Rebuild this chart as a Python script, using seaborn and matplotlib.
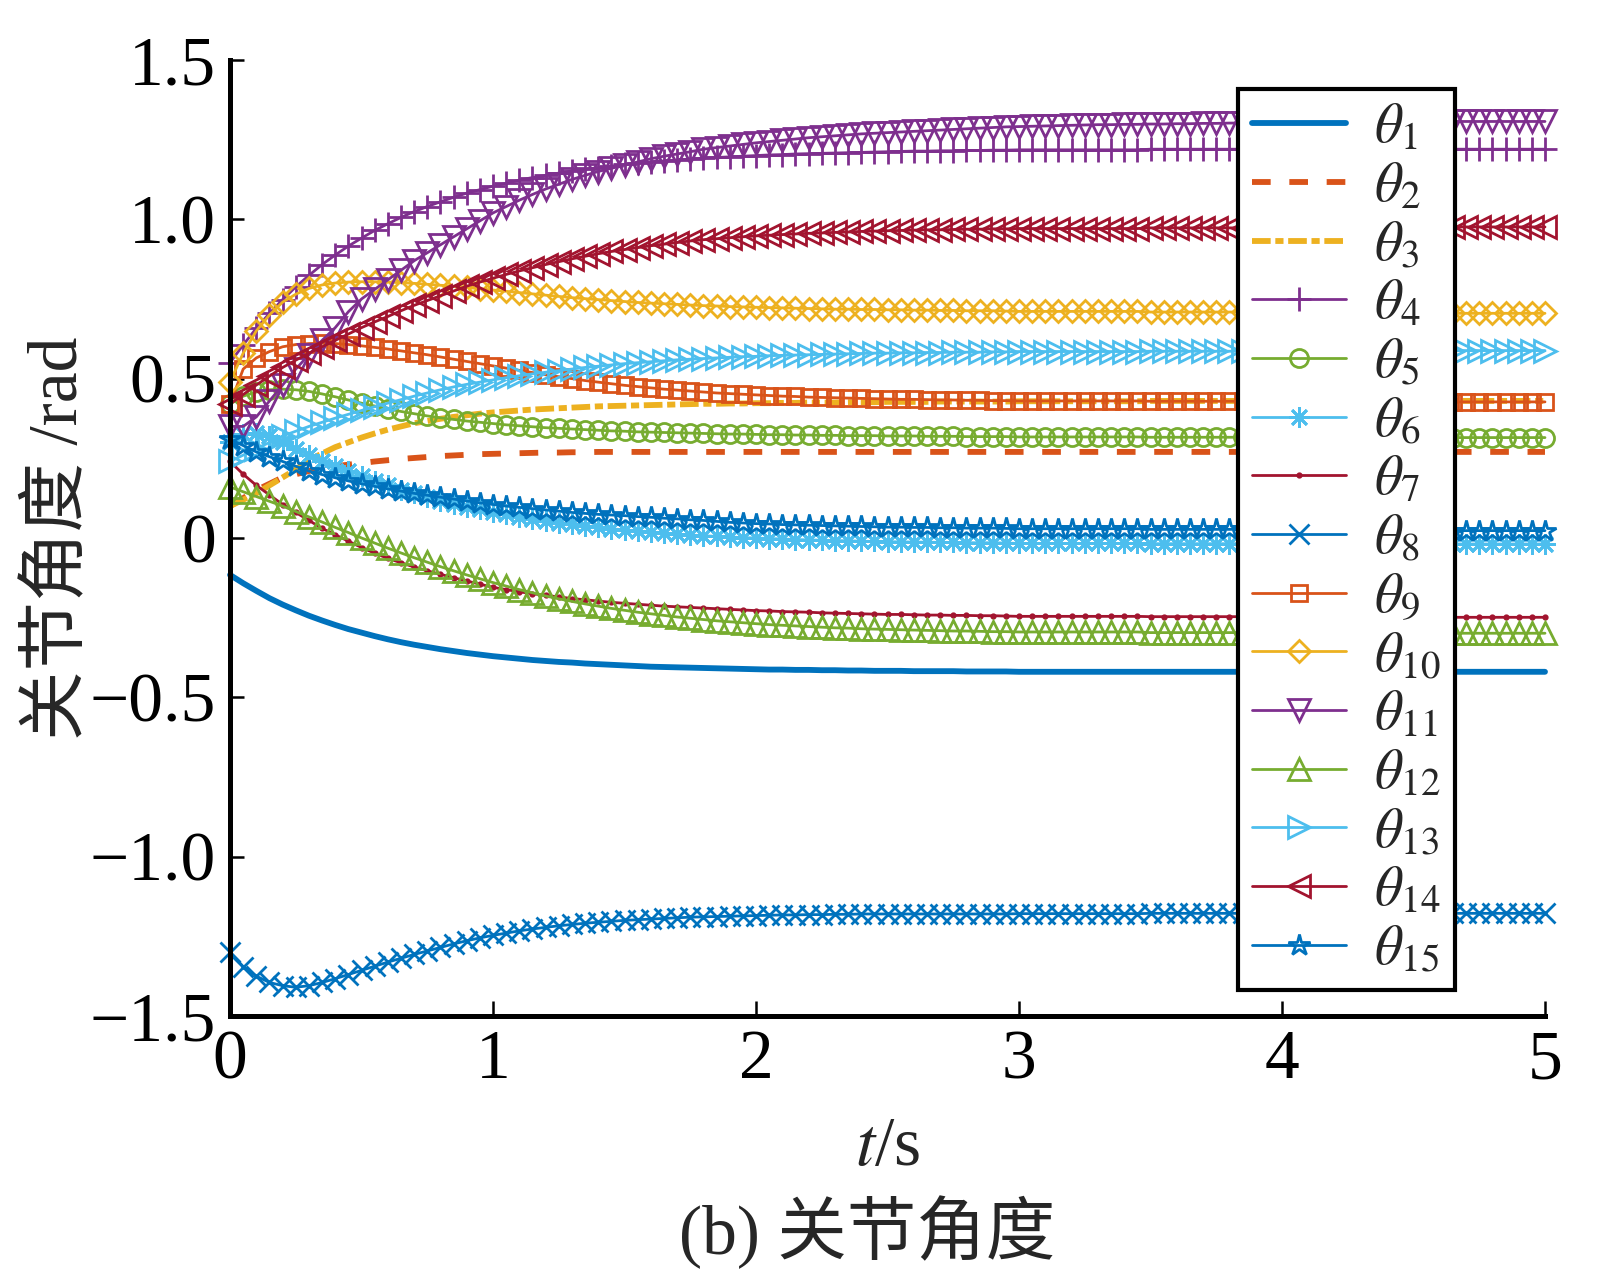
import numpy as np
import matplotlib
matplotlib.use("Agg")
import matplotlib.pyplot as plt
import seaborn as sns

# time axis: one sample every 0.05 s over 0..5 s
t = np.linspace(0, 5, 101)

theta1 = [-0.116, -0.142, -0.166, -0.189, -0.209, -0.227, -0.244, -0.259, -0.273, -0.286,
          -0.297, -0.308, -0.318, -0.327, -0.335, -0.342, -0.349, -0.355, -0.361, -0.366,
          -0.371, -0.375, -0.379, -0.383, -0.386, -0.389, -0.391, -0.394, -0.396, -0.398,
          -0.40, -0.402, -0.404, -0.405, -0.406, -0.407, -0.408, -0.409, -0.41, -0.411,
          -0.412, -0.413, -0.413, -0.414, -0.414, -0.415, -0.415, -0.416, -0.416, -0.417,
          -0.417, -0.417, -0.418, -0.418, -0.418, -0.418, -0.419, -0.419, -0.419, -0.419,
          -0.42, -0.42, -0.42, -0.42, -0.42, -0.42, -0.42, -0.42, -0.42, -0.42,
          -0.42, -0.42, -0.42, -0.42, -0.42, -0.42, -0.42, -0.42, -0.42, -0.42,
          -0.42, -0.42, -0.42, -0.42, -0.42, -0.42, -0.42, -0.42, -0.42, -0.42,
          -0.42, -0.42, -0.42, -0.42, -0.42, -0.42, -0.42, -0.42, -0.42, -0.42,
          -0.42]
theta2 = [0.10, 0.125, 0.15, 0.17, 0.19, 0.20, 0.21, 0.218, 0.225, 0.23,
          0.235, 0.24, 0.244, 0.248, 0.251, 0.254, 0.257, 0.259, 0.261, 0.263,
          0.264, 0.265, 0.266, 0.267, 0.268, 0.268, 0.269, 0.269, 0.27, 0.27,
          0.27, 0.27, 0.27, 0.27, 0.27, 0.27, 0.27, 0.27, 0.27, 0.27,
          0.27, 0.27, 0.27, 0.27, 0.27, 0.27, 0.27, 0.27, 0.27, 0.27,
          0.27, 0.27, 0.27, 0.27, 0.27, 0.27, 0.27, 0.27, 0.27, 0.27,
          0.27, 0.27, 0.27, 0.27, 0.27, 0.27, 0.27, 0.27, 0.27, 0.27,
          0.27, 0.27, 0.27, 0.27, 0.27, 0.27, 0.27, 0.27, 0.27, 0.27,
          0.27, 0.27, 0.27, 0.27, 0.27, 0.27, 0.27, 0.27, 0.27, 0.27,
          0.27, 0.27, 0.27, 0.27, 0.27, 0.27, 0.27, 0.27, 0.27, 0.27,
          0.27]
theta3 = [0.10, 0.12, 0.14, 0.165, 0.19, 0.215, 0.245, 0.265, 0.285, 0.30,
          0.315, 0.328, 0.34, 0.35, 0.36, 0.367, 0.374, 0.38, 0.385, 0.39,
          0.394, 0.397, 0.40, 0.403, 0.405, 0.407, 0.409, 0.411, 0.413, 0.414,
          0.415, 0.416, 0.417, 0.418, 0.419, 0.42, 0.421, 0.421, 0.422, 0.422,
          0.423, 0.423, 0.424, 0.424, 0.425, 0.425, 0.425, 0.426, 0.426, 0.426,
          0.427, 0.427, 0.427, 0.427, 0.428, 0.428, 0.428, 0.428, 0.428, 0.428,
          0.429, 0.429, 0.429, 0.429, 0.429, 0.429, 0.429, 0.429, 0.429, 0.429,
          0.43, 0.43, 0.43, 0.43, 0.43, 0.43, 0.43, 0.43, 0.43, 0.43,
          0.43, 0.43, 0.43, 0.43, 0.43, 0.43, 0.43, 0.43, 0.43, 0.43,
          0.43, 0.43, 0.43, 0.43, 0.43, 0.43, 0.43, 0.43, 0.43, 0.43,
          0.43]
theta4 = [0.55, 0.606, 0.658, 0.705, 0.748, 0.788, 0.824, 0.858, 0.888, 0.916,
          0.941, 0.965, 0.986, 1.006, 1.024, 1.040, 1.055, 1.069, 1.082, 1.093,
          1.104, 1.113, 1.123, 1.131, 1.138, 1.145, 1.152, 1.157, 1.162, 1.167,
          1.172, 1.176, 1.180, 1.183, 1.186, 1.189, 1.192, 1.194, 1.196, 1.198,
          1.200, 1.202, 1.203, 1.205, 1.206, 1.207, 1.208, 1.209, 1.210, 1.211,
          1.212, 1.213, 1.214, 1.214, 1.215, 1.215, 1.216, 1.216, 1.217, 1.217,
          1.218, 1.218, 1.218, 1.218, 1.218, 1.218, 1.218, 1.218, 1.218, 1.218,
          1.22, 1.22, 1.22, 1.22, 1.22, 1.22, 1.22, 1.22, 1.22, 1.22,
          1.22, 1.22, 1.22, 1.22, 1.22, 1.22, 1.22, 1.22, 1.22, 1.22,
          1.22, 1.22, 1.22, 1.22, 1.22, 1.22, 1.22, 1.22, 1.22, 1.22,
          1.22]
theta5 = [0.42, 0.445, 0.458, 0.465, 0.467, 0.465, 0.46, 0.452, 0.443, 0.433,
          0.423, 0.414, 0.405, 0.397, 0.39, 0.383, 0.377, 0.372, 0.367, 0.363,
          0.359, 0.355, 0.352, 0.349, 0.346, 0.344, 0.342, 0.34, 0.338, 0.336,
          0.335, 0.333, 0.332, 0.331, 0.33, 0.329, 0.328, 0.327, 0.326, 0.326,
          0.325, 0.324, 0.324, 0.323, 0.323, 0.322, 0.322, 0.321, 0.321, 0.321,
          0.32, 0.32, 0.32, 0.319, 0.319, 0.319, 0.318, 0.318, 0.318, 0.318,
          0.317, 0.317, 0.317, 0.317, 0.317, 0.317, 0.317, 0.317, 0.317, 0.317,
          0.316, 0.316, 0.316, 0.316, 0.316, 0.316, 0.316, 0.316, 0.316, 0.316,
          0.316, 0.316, 0.316, 0.316, 0.316, 0.315, 0.315, 0.315, 0.315, 0.315,
          0.315, 0.315, 0.315, 0.315, 0.315, 0.315, 0.315, 0.315, 0.315, 0.315,
          0.315]
theta6 = [0.30, 0.325, 0.33, 0.32, 0.30, 0.28, 0.26, 0.24, 0.225, 0.21,
          0.195, 0.18, 0.165, 0.152, 0.14, 0.128, 0.117, 0.107, 0.098, 0.09,
          0.082, 0.074, 0.067, 0.06, 0.054, 0.048, 0.043, 0.038, 0.033, 0.029,
          0.025, 0.021, 0.018, 0.015, 0.012, 0.009, 0.007, 0.005, 0.003, 0.001,
          0.0, -0.002, -0.003, -0.005, -0.006, -0.007, -0.008, -0.009, -0.01, -0.011,
          -0.012, -0.012, -0.013, -0.013, -0.014, -0.014, -0.015, -0.015, -0.015, -0.016,
          -0.017, -0.017, -0.017, -0.017, -0.017, -0.017, -0.017, -0.017, -0.017, -0.017,
          -0.018, -0.018, -0.018, -0.018, -0.018, -0.018, -0.018, -0.018, -0.018, -0.018,
          -0.018, -0.018, -0.018, -0.018, -0.018, -0.019, -0.019, -0.019, -0.019, -0.019,
          -0.019, -0.019, -0.019, -0.019, -0.019, -0.019, -0.019, -0.019, -0.019, -0.019,
          -0.019]
theta7 = [0.24, 0.20, 0.165, 0.135, 0.105, 0.08, 0.055, 0.03, 0.01, -0.01,
          -0.03, -0.048, -0.064, -0.078, -0.091, -0.103, -0.114, -0.125, -0.135, -0.145,
          -0.155, -0.162, -0.169, -0.175, -0.18, -0.185, -0.19, -0.194, -0.198, -0.202,
          -0.205, -0.208, -0.211, -0.214, -0.216, -0.218, -0.22, -0.222, -0.224, -0.226,
          -0.228, -0.229, -0.231, -0.232, -0.233, -0.235, -0.236, -0.237, -0.238, -0.239,
          -0.24, -0.24, -0.241, -0.242, -0.242, -0.243, -0.243, -0.244, -0.244, -0.245,
          -0.246, -0.246, -0.246, -0.246, -0.246, -0.246, -0.246, -0.246, -0.246, -0.246,
          -0.247, -0.247, -0.247, -0.247, -0.247, -0.247, -0.247, -0.247, -0.247, -0.247,
          -0.248, -0.248, -0.248, -0.248, -0.248, -0.248, -0.248, -0.248, -0.248, -0.248,
          -0.249, -0.249, -0.249, -0.249, -0.249, -0.249, -0.249, -0.249, -0.249, -0.249,
          -0.249]
theta8 = [-1.30, -1.345, -1.375, -1.395, -1.405, -1.41, -1.405, -1.395, -1.383, -1.37,
          -1.357, -1.344, -1.331, -1.319, -1.307, -1.296, -1.285, -1.274, -1.264, -1.255,
          -1.247, -1.24, -1.233, -1.227, -1.222, -1.217, -1.213, -1.209, -1.206, -1.203,
          -1.20, -1.198, -1.196, -1.194, -1.192, -1.19, -1.189, -1.188, -1.187, -1.186,
          -1.185, -1.184, -1.183, -1.183, -1.182, -1.182, -1.181, -1.181, -1.18, -1.18,
          -1.18, -1.18, -1.18, -1.18, -1.18, -1.18, -1.18, -1.18, -1.18, -1.18,
          -1.179, -1.179, -1.179, -1.179, -1.179, -1.179, -1.179, -1.179, -1.179, -1.179,
          -1.178, -1.178, -1.178, -1.178, -1.178, -1.178, -1.178, -1.178, -1.178, -1.178,
          -1.178, -1.178, -1.178, -1.178, -1.178, -1.178, -1.178, -1.178, -1.178, -1.178,
          -1.178, -1.178, -1.178, -1.178, -1.178, -1.178, -1.178, -1.178, -1.178, -1.178,
          -1.178]
theta9 = [0.42, 0.53, 0.565, 0.585, 0.60, 0.607, 0.61, 0.611, 0.61, 0.607,
          0.603, 0.598, 0.593, 0.587, 0.581, 0.575, 0.568, 0.561, 0.554, 0.547,
          0.54, 0.533, 0.526, 0.519, 0.512, 0.506, 0.50, 0.494, 0.489, 0.484,
          0.479, 0.475, 0.471, 0.467, 0.464, 0.461, 0.458, 0.455, 0.453, 0.451,
          0.449, 0.447, 0.445, 0.444, 0.442, 0.441, 0.44, 0.439, 0.438, 0.437,
          0.436, 0.435, 0.435, 0.434, 0.433, 0.433, 0.432, 0.432, 0.431, 0.431,
          0.43, 0.43, 0.43, 0.43, 0.43, 0.43, 0.43, 0.43, 0.43, 0.43,
          0.429, 0.429, 0.429, 0.429, 0.429, 0.429, 0.429, 0.429, 0.429, 0.429,
          0.428, 0.428, 0.428, 0.428, 0.428, 0.428, 0.428, 0.428, 0.428, 0.428,
          0.427, 0.427, 0.427, 0.427, 0.427, 0.427, 0.427, 0.427, 0.427, 0.427,
          0.427]
theta10 = [0.49, 0.58, 0.65, 0.70, 0.74, 0.765, 0.783, 0.794, 0.80, 0.803,
           0.804, 0.804, 0.803, 0.801, 0.799, 0.796, 0.793, 0.79, 0.786, 0.782,
           0.778, 0.774, 0.77, 0.766, 0.762, 0.758, 0.754, 0.751, 0.748, 0.745,
           0.742, 0.739, 0.737, 0.735, 0.733, 0.731, 0.729, 0.728, 0.726, 0.725,
           0.724, 0.723, 0.722, 0.721, 0.72, 0.719, 0.718, 0.718, 0.717, 0.717,
           0.716, 0.716, 0.715, 0.715, 0.714, 0.714, 0.713, 0.713, 0.713, 0.712,
           0.711, 0.711, 0.711, 0.711, 0.711, 0.711, 0.711, 0.711, 0.711, 0.711,
           0.709, 0.709, 0.709, 0.709, 0.709, 0.709, 0.709, 0.709, 0.709, 0.709,
           0.707, 0.707, 0.707, 0.707, 0.707, 0.707, 0.707, 0.707, 0.707, 0.707,
           0.705, 0.705, 0.705, 0.705, 0.705, 0.705, 0.705, 0.705, 0.705, 0.705,
           0.705]
theta11 = [0.35, 0.35, 0.38, 0.43, 0.48, 0.53, 0.575, 0.62, 0.66, 0.71,
           0.75, 0.78, 0.81, 0.84, 0.87, 0.895, 0.92, 0.945, 0.97, 0.995,
           1.02, 1.04, 1.06, 1.078, 1.095, 1.11, 1.125, 1.138, 1.15, 1.16,
           1.17, 1.18, 1.19, 1.198, 1.205, 1.212, 1.22, 1.225, 1.23, 1.235,
           1.24, 1.244, 1.248, 1.252, 1.256, 1.259, 1.262, 1.265, 1.268, 1.27,
           1.272, 1.274, 1.276, 1.278, 1.28, 1.282, 1.284, 1.286, 1.288, 1.29,
           1.291, 1.292, 1.293, 1.294, 1.295, 1.296, 1.297, 1.297, 1.298, 1.298,
           1.299, 1.299, 1.30, 1.30, 1.301, 1.301, 1.302, 1.302, 1.303, 1.303,
           1.304, 1.304, 1.304, 1.305, 1.305, 1.305, 1.305, 1.306, 1.306, 1.306,
           1.306, 1.306, 1.306, 1.307, 1.307, 1.307, 1.307, 1.307, 1.307, 1.307,
           1.307]
theta12 = [0.16, 0.145, 0.13, 0.115, 0.10, 0.083, 0.066, 0.05, 0.033, 0.017,
           0.0, -0.016, -0.032, -0.047, -0.062, -0.076, -0.09, -0.103, -0.116, -0.128,
           -0.14, -0.151, -0.162, -0.172, -0.182, -0.191, -0.199, -0.207, -0.214, -0.221,
           -0.227, -0.233, -0.238, -0.243, -0.248, -0.252, -0.256, -0.26, -0.263, -0.266,
           -0.269, -0.272, -0.274, -0.276, -0.278, -0.28, -0.282, -0.283, -0.285, -0.286,
           -0.287, -0.288, -0.289, -0.29, -0.291, -0.292, -0.292, -0.293, -0.294, -0.294,
           -0.295, -0.295, -0.295, -0.295, -0.295, -0.295, -0.295, -0.295, -0.295, -0.295,
           -0.297, -0.297, -0.297, -0.297, -0.297, -0.297, -0.297, -0.297, -0.297, -0.297,
           -0.298, -0.298, -0.298, -0.298, -0.298, -0.298, -0.298, -0.298, -0.298, -0.298,
           -0.299, -0.299, -0.299, -0.299, -0.299, -0.299, -0.299, -0.299, -0.299, -0.299,
           -0.299]
theta13 = [0.24, 0.26, 0.28, 0.30, 0.32, 0.335, 0.35, 0.363, 0.376, 0.388,
           0.40, 0.412, 0.423, 0.434, 0.445, 0.455, 0.465, 0.474, 0.482, 0.489,
           0.496, 0.503, 0.509, 0.515, 0.52, 0.525, 0.53, 0.535, 0.539, 0.543,
           0.547, 0.55, 0.553, 0.556, 0.559, 0.561, 0.563, 0.565, 0.567, 0.569,
           0.57, 0.572, 0.573, 0.574, 0.575, 0.576, 0.577, 0.578, 0.579, 0.58,
           0.58, 0.581, 0.581, 0.582, 0.582, 0.583, 0.583, 0.583, 0.584, 0.584,
           0.585, 0.585, 0.585, 0.585, 0.585, 0.585, 0.585, 0.585, 0.585, 0.585,
           0.586, 0.586, 0.586, 0.586, 0.586, 0.586, 0.586, 0.586, 0.586, 0.586,
           0.587, 0.587, 0.587, 0.587, 0.587, 0.587, 0.587, 0.587, 0.587, 0.587,
           0.588, 0.588, 0.588, 0.588, 0.588, 0.588, 0.588, 0.588, 0.588, 0.588,
           0.588]
theta14 = [0.42, 0.45, 0.48, 0.508, 0.535, 0.558, 0.58, 0.60, 0.62, 0.64,
           0.66, 0.678, 0.695, 0.713, 0.73, 0.745, 0.76, 0.775, 0.79, 0.803,
           0.815, 0.827, 0.838, 0.848, 0.858, 0.867, 0.876, 0.884, 0.892, 0.899,
           0.905, 0.911, 0.917, 0.922, 0.927, 0.932, 0.936, 0.939, 0.942, 0.945,
           0.948, 0.95, 0.952, 0.954, 0.956, 0.957, 0.959, 0.96, 0.962, 0.963,
           0.964, 0.965, 0.966, 0.967, 0.967, 0.968, 0.969, 0.969, 0.97, 0.97,
           0.971, 0.971, 0.971, 0.971, 0.971, 0.971, 0.971, 0.971, 0.971, 0.971,
           0.973, 0.973, 0.973, 0.973, 0.973, 0.973, 0.973, 0.973, 0.973, 0.973,
           0.975, 0.975, 0.975, 0.975, 0.975, 0.975, 0.975, 0.975, 0.975, 0.975,
           0.976, 0.976, 0.976, 0.976, 0.976, 0.976, 0.976, 0.976, 0.976, 0.976,
           0.976]
theta15 = [0.31, 0.29, 0.27, 0.255, 0.24, 0.225, 0.21, 0.199, 0.189, 0.179,
           0.17, 0.162, 0.154, 0.147, 0.14, 0.134, 0.128, 0.122, 0.116, 0.11,
           0.105, 0.1, 0.096, 0.092, 0.088, 0.084, 0.08, 0.077, 0.074, 0.072,
           0.07, 0.067, 0.065, 0.062, 0.06, 0.057, 0.055, 0.052, 0.049, 0.047,
           0.045, 0.044, 0.042, 0.041, 0.04, 0.039, 0.038, 0.037, 0.036, 0.035,
           0.034, 0.034, 0.033, 0.033, 0.032, 0.032, 0.031, 0.031, 0.031, 0.03,
           0.029, 0.029, 0.029, 0.029, 0.029, 0.029, 0.029, 0.029, 0.029, 0.029,
           0.027, 0.027, 0.027, 0.027, 0.027, 0.027, 0.027, 0.027, 0.027, 0.027,
           0.025, 0.025, 0.025, 0.025, 0.025, 0.025, 0.025, 0.025, 0.025, 0.025,
           0.023, 0.023, 0.023, 0.023, 0.023, 0.023, 0.023, 0.023, 0.023, 0.023,
           0.023]

series = [theta1, theta2, theta3, theta4, theta5, theta6, theta7, theta8,
          theta9, theta10, theta11, theta12, theta13, theta14, theta15]
labels = [r"$\theta_{%d}$" % (i + 1) for i in range(15)]

xticks = [0, 1, 2, 3, 4, 5]
xtick_labels = ["0", "1", "2", "3", "4", "5"]
yticks = [-1.5, -1.0, -0.5, 0, 0.5, 1.0, 1.5]
ytick_labels = ["\u22121.5", "\u22121.0", "\u22120.5", "0", "0.5", "1.0", "1.5"]

# MATLAB default colour order
colors = ["#0072BD", "#D95319", "#EDB120", "#7E2F8E", "#77AC30", "#4DBEEE", "#A2142F",
          "#0072BD", "#D95319", "#EDB120", "#7E2F8E", "#77AC30", "#4DBEEE", "#A2142F",
          "#0072BD"]
markers = [None, None, None, "+", "o", (8, 2, 0), ".", "x", "s", "D", "v", "^", ">", "<", "*"]
msizes = [0, 0, 0, 17, 13, 15, 5, 15, 12, 11, 16, 16, 16, 16, 16]

sns.set_style("ticks")
plt.rcParams["font.family"] = ["Liberation Serif", "Noto Sans CJK SC"]
plt.rcParams["mathtext.fontset"] = "stix"

fig = plt.figure(figsize=(16.2, 12.76), dpi=100)
ax = fig.add_axes([0.142, 0.2038, 0.8117, 0.7492])

for i, (vals, lab) in enumerate(zip(series, labels)):
    kw = dict(color=colors[i], label=lab, clip_on=False)
    if i == 0:
        kw.update(lw=4.2, solid_capstyle="round")
    elif i == 1:
        kw.update(lw=4.2, linestyle=(0, (3.2, 3.2)), dash_capstyle="butt")
    elif i == 2:
        kw.update(lw=4.2, linestyle=(0, (3.2, 0.8, 1.4, 0.8)), dash_capstyle="butt")
    else:
        kw.update(lw=2.0, marker=markers[i], markersize=msizes[i],
                  markerfacecolor="none", markeredgecolor=colors[i],
                  markeredgewidth=2.0)
    sns.lineplot(x=t, y=vals, ax=ax, estimator=None, errorbar=None, **kw)

ax.set_xlim(0, 5)
ax.set_ylim(-1.5, 1.5)
ax.set_xticks(xticks)
ax.set_xticklabels(xtick_labels)
ax.set_yticks(yticks)
ax.set_yticklabels(ytick_labels)
ax.tick_params(direction="in", length=11, width=1.8, labelsize=50, pad=10, colors="black")
ax.tick_params(axis="y", length=10)

for side in ["top", "right"]:
    ax.spines[side].set_visible(False)
for side in ["left", "bottom"]:
    ax.spines[side].set_linewidth(3.6)
    ax.spines[side].set_color("black")

ax.set_xlabel(r"$t$/s", fontsize=50, va="top")
ax.xaxis.set_label_coords(0.5, -0.105)
ax.set_ylabel("关节角度 /rad", fontsize=50)
ax.yaxis.set_label_coords(-0.105, 0.5)

leg = ax.legend(loc="upper left", bbox_to_anchor=(0.7665, 0.9697), borderaxespad=0,
                fontsize=40, handlelength=1.7, handletextpad=0.5, borderpad=0.25,
                labelspacing=0.12, frameon=True, fancybox=False, framealpha=1)
leg.get_frame().set_edgecolor("black")
leg.get_frame().set_linewidth(3.0)

fig.text(0.535, 0.034, "(b) 关节角度", ha="center", va="center", fontsize=50)

fig.savefig("out.png", dpi=100)
